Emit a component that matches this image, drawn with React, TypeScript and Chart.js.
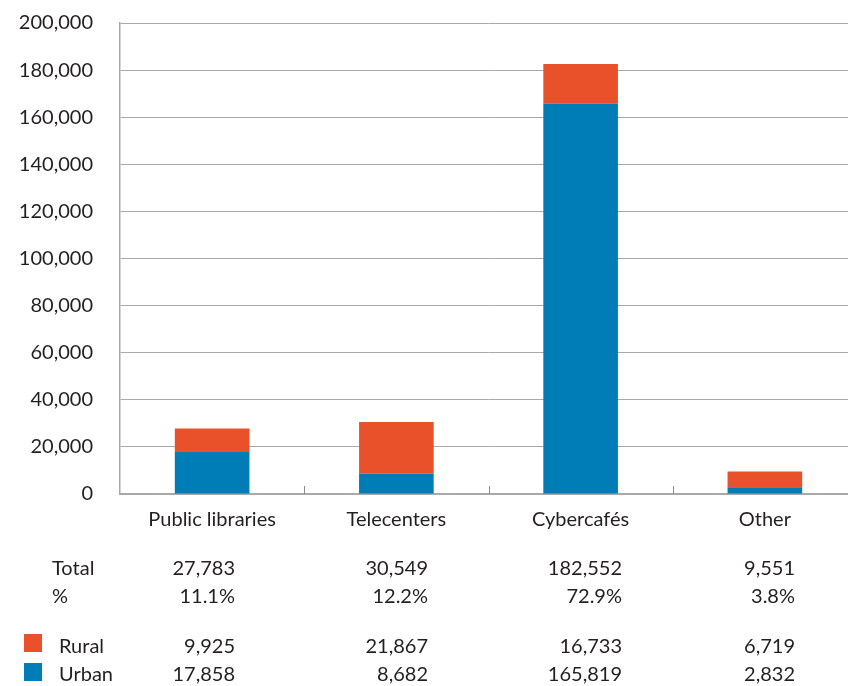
import { useEffect, useRef } from "react";
import { Chart, registerables } from "chart.js";

Chart.register(...registerables);

// Access points by venue type, split into rural and urban
const categories = ["Public libraries", "Telecenters", "Cybercafés", "Other"];
const rural = [9925, 21867, 16733, 6719];
const urban = [17858, 8682, 165819, 2832];
const totals = [27783, 30549, 182552, 9551];
const shares = [11.1, 12.2, 72.9, 3.8];
const yMin = 0;
const yMax = 200000;
const yStep = 20000;

const INK = "#231f20";
const RURAL_COLOR = "#e9512b";
const URBAN_COLOR = "#007cb6";
const GRID = "#a9a9a9";
const FONT_FAMILY = "Lato, 'Open Sans', sans-serif";
const FONT_SIZE = 20;

const CANVAS_W = 860;
const CANVAS_H = 686;

// Table layout below the axis
const COL_RIGHT = [235, 428, 622, 795];
const ROW_BASE = [575, 603, 653, 681];

const fmt = (v: number) => v.toLocaleString("en-US");

const tablePlugin = {
  id: "summaryTable",
  afterDraw(chart: any) {
    const ctx = chart.ctx as CanvasRenderingContext2D;
    ctx.save();
    ctx.font = `${FONT_SIZE}px ${FONT_FAMILY}`;
    ctx.fillStyle = INK;
    ctx.textBaseline = "alphabetic";

    ctx.textAlign = "left";
    ctx.fillText("Total", 52, ROW_BASE[0]);
    ctx.fillText("%", 52, ROW_BASE[1]);
    ctx.fillText("Rural", 59, ROW_BASE[2]);
    ctx.fillText("Urban", 59, ROW_BASE[3]);

    ctx.textAlign = "right";
    categories.forEach((_, i) => {
      ctx.fillText(fmt(totals[i]), COL_RIGHT[i], ROW_BASE[0]);
      ctx.fillText(`${shares[i].toFixed(1)}%`, COL_RIGHT[i], ROW_BASE[1]);
      ctx.fillText(fmt(rural[i]), COL_RIGHT[i], ROW_BASE[2]);
      ctx.fillText(fmt(urban[i]), COL_RIGHT[i], ROW_BASE[3]);
    });

    // legend swatches
    ctx.fillStyle = RURAL_COLOR;
    ctx.fillRect(24, ROW_BASE[2] - 19, 18, 18);
    ctx.fillStyle = URBAN_COLOR;
    ctx.fillRect(24, ROW_BASE[3] - 18, 18, 18);
    ctx.restore();
  },
};

// Short inward tick marks at the category boundaries
const boundaryTicks = {
  id: "boundaryTicks",
  afterDatasetsDraw(chart: any) {
    const x = chart.scales.x;
    const { bottom } = chart.chartArea;
    const ctx = chart.ctx as CanvasRenderingContext2D;
    const half = (x.getPixelForValue(1) - x.getPixelForValue(0)) / 2;
    ctx.save();
    ctx.strokeStyle = "#8c8c8c";
    ctx.lineWidth = 1;
    for (let i = 1; i < categories.length; i++) {
      const px = Math.round(x.getPixelForValue(i) - half) + 0.5;
      ctx.beginPath();
      ctx.moveTo(px, bottom - 8);
      ctx.lineTo(px, bottom);
      ctx.stroke();
    }
    ctx.restore();
  },
};

export default function App() {
  const ref = useRef<HTMLCanvasElement | null>(null);

  useEffect(() => {
    if (!ref.current) return;
    const chart = new Chart(ref.current, {
      type: "bar",
      data: {
        labels: categories,
        datasets: [
          {
            label: "Urban",
            data: urban,
            backgroundColor: URBAN_COLOR,
            borderWidth: 0,
            categoryPercentage: 1,
            barPercentage: 0.405,
          },
          {
            label: "Rural",
            data: rural,
            backgroundColor: RURAL_COLOR,
            borderWidth: 0,
            categoryPercentage: 1,
            barPercentage: 0.405,
          },
        ],
      },
      options: {
        responsive: false,
        animation: false,
        layout: { padding: { top: 23, left: 0, right: 3, bottom: 152 } },
        plugins: {
          legend: { display: false },
          tooltip: { enabled: false },
        },
        scales: {
          x: {
            stacked: true,
            grid: { display: false },
            border: { display: true, color: GRID, width: 2 },
            ticks: {
              color: INK,
              font: { family: FONT_FAMILY, size: FONT_SIZE },
              padding: 6,
              maxRotation: 0,
            },
            afterFit(scale: any) {
              scale.height = 40;
              scale.paddingLeft = 0;
              scale.paddingRight = 0;
            },
          },
          y: {
            stacked: true,
            min: yMin,
            max: yMax,
            grid: { color: GRID, lineWidth: 1, drawTicks: false },
            border: { display: true, color: GRID, width: 1.5 },
            ticks: {
              stepSize: yStep,
              color: INK,
              font: { family: FONT_FAMILY, size: FONT_SIZE },
              padding: 27,
              callback: (v: any) => fmt(Number(v)),
            },
            afterFit(scale: any) {
              scale.width = 120;
              scale.paddingTop = 0;
              scale.paddingBottom = 0;
            },
          },
        },
      },
      plugins: [boundaryTicks, tablePlugin],
    });
    return () => chart.destroy();
  }, []);

  return (
    <div
      style={{
        position: "fixed",
        left: 0,
        top: 0,
        width: 848,
        height: 686,
        overflow: "hidden",
        background: "#ffffff",
      }}
    >
      <canvas
        ref={ref}
        width={CANVAS_W}
        height={CANVAS_H}
        style={{ display: "block", width: CANVAS_W, height: CANVAS_H }}
      />
    </div>
  );
}
